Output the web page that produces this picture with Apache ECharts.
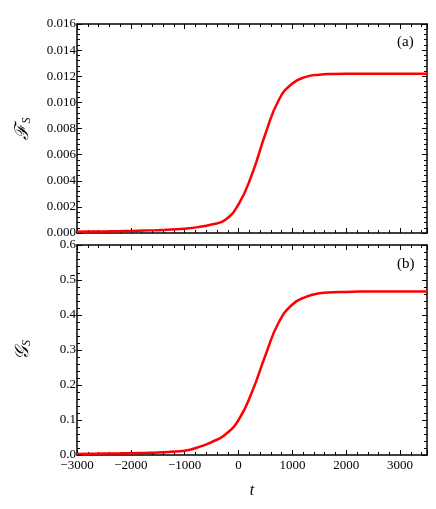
<!DOCTYPE html>
<html>
<head>
<meta charset="utf-8">
<script src="https://cdn.jsdelivr.net/npm/echarts@6/dist/echarts.min.js"></script>
<style>
  html, body { margin: 0; padding: 0; background: #fff; }
  #chart { width: 436px; height: 509px; }
</style>
</head>
<body>
<div id="chart"></div>
<script>
// time samples shared by both panels (every 250)
var tValues = [-3000, -2750, -2500, -2250, -2000, -1750, -1500, -1250, -1000, -750, -500, -250, 0,
  250, 500, 750, 1000, 1250, 1500, 1750, 2000, 2250, 2500, 2750, 3000, 3250, 3500];
// panel (a)
var fsValues = [0.0001, 0.00011, 0.00012, 0.00014, 0.00016, 0.00019, 0.00022, 0.00027, 0.00033, 0.00045,
  0.00065, 0.001, 0.0022, 0.0045, 0.0076, 0.0102, 0.01145, 0.01195, 0.01212, 0.01218, 0.0122, 0.0122,
  0.0122, 0.0122, 0.0122, 0.0122, 0.0122];
// panel (b)
var gsValues = [0.003, 0.0035, 0.004, 0.0045, 0.005, 0.006, 0.007, 0.009, 0.012, 0.022, 0.037, 0.058, 0.10,
  0.18, 0.285, 0.38, 0.43, 0.452, 0.462, 0.465, 0.466, 0.467, 0.467, 0.467, 0.467, 0.467, 0.467];
var panelLabels = ['(a)', '(b)'];

var font = 'Liberation Serif';
var black = '#000';

function pairs(ys) {
  return tValues.map(function (t, i) { return [t, ys[i]]; });
}

function xAxis(grid, pos, showLabels) {
  return {
    type: 'value', gridIndex: grid, position: pos,
    min: -3000, max: 3500, interval: 1000,
    axisLine: { show: true, onZero: false, lineStyle: { color: black, width: 1.5 } },
    axisTick: { show: true, inside: true, length: 5, lineStyle: { color: black } },
    minorTick: { show: true, splitNumber: 5, length: 3, lineStyle: { color: black } },
    splitLine: { show: false },
    axisLabel: {
      show: showLabels, showMaxLabel: false, color: black, fontFamily: font, fontSize: 13, margin: 4,
      formatter: function (v) { return String(v).replace('-', '\u2212'); }
    },
    name: showLabels ? 't' : '', nameLocation: 'middle', nameGap: 28,
    nameTextStyle: { fontFamily: font, fontStyle: 'italic', fontSize: 16, color: black }
  };
}

function yAxis(grid, pos, max, interval, digits, name) {
  var left = pos === 'left';
  return {
    type: 'value', gridIndex: grid, position: pos,
    min: 0, max: max, interval: interval,
    axisLine: { show: true, onZero: false, lineStyle: { color: black, width: 1.5 } },
    axisTick: { show: true, inside: true, length: 5, lineStyle: { color: black } },
    minorTick: { show: true, splitNumber: 5, length: 3, lineStyle: { color: black } },
    splitLine: { show: false },
    axisLabel: {
      show: left, color: black, fontFamily: font, fontSize: 13, margin: 1,
      formatter: function (v) { return v.toFixed(digits); }
    },
    name: left ? name : '', nameLocation: 'middle', nameGap: 44, nameRotate: 90,
    nameTextStyle: {
      fontFamily: font, fontStyle: 'italic', fontSize: 19, color: black,
      rich: { s: { fontFamily: font, fontStyle: 'italic', fontSize: 12, color: black, padding: [8, 0, 0, 0] } }
    }
  };
}

var chart = echarts.init(document.getElementById('chart'), null, { renderer: 'canvas' });

chart.setOption({
  backgroundColor: '#fff',
  animation: false,
  grid: [
    { left: 77, right: 9, top: 24, height: 209 },
    { left: 77, right: 9, top: 245, height: 210 }
  ],
  xAxis: [
    xAxis(0, 'bottom', false),
    xAxis(0, 'top', false),
    xAxis(1, 'bottom', true),
    xAxis(1, 'top', false)
  ],
  yAxis: [
    yAxis(0, 'left', 0.016, 0.002, 3, '\u2131{s|S}'),
    yAxis(0, 'right', 0.016, 0.002, 3, ''),
    yAxis(1, 'left', 0.6, 0.1, 1, '\uD835\uDCA2{s|S}'),
    yAxis(1, 'right', 0.6, 0.1, 1, '')
  ],
  graphic: [
    { type: 'text', left: 397, top: 35, style: { text: panelLabels[0], font: '15px "Liberation Serif"', fill: black } },
    { type: 'text', left: 397, top: 257, style: { text: panelLabels[1], font: '15px "Liberation Serif"', fill: black } }
  ],
  series: [
    {
      type: 'line', xAxisIndex: 0, yAxisIndex: 0, data: pairs(fsValues),
      smooth: 0.5, showSymbol: false,
      lineStyle: { color: '#ff0000', width: 2.5 }
    },
    {
      type: 'line', xAxisIndex: 2, yAxisIndex: 2, data: pairs(gsValues),
      smooth: 0.5, showSymbol: false,
      lineStyle: { color: '#ff0000', width: 2.5 }
    }
  ]
});
</script>
</body>
</html>
